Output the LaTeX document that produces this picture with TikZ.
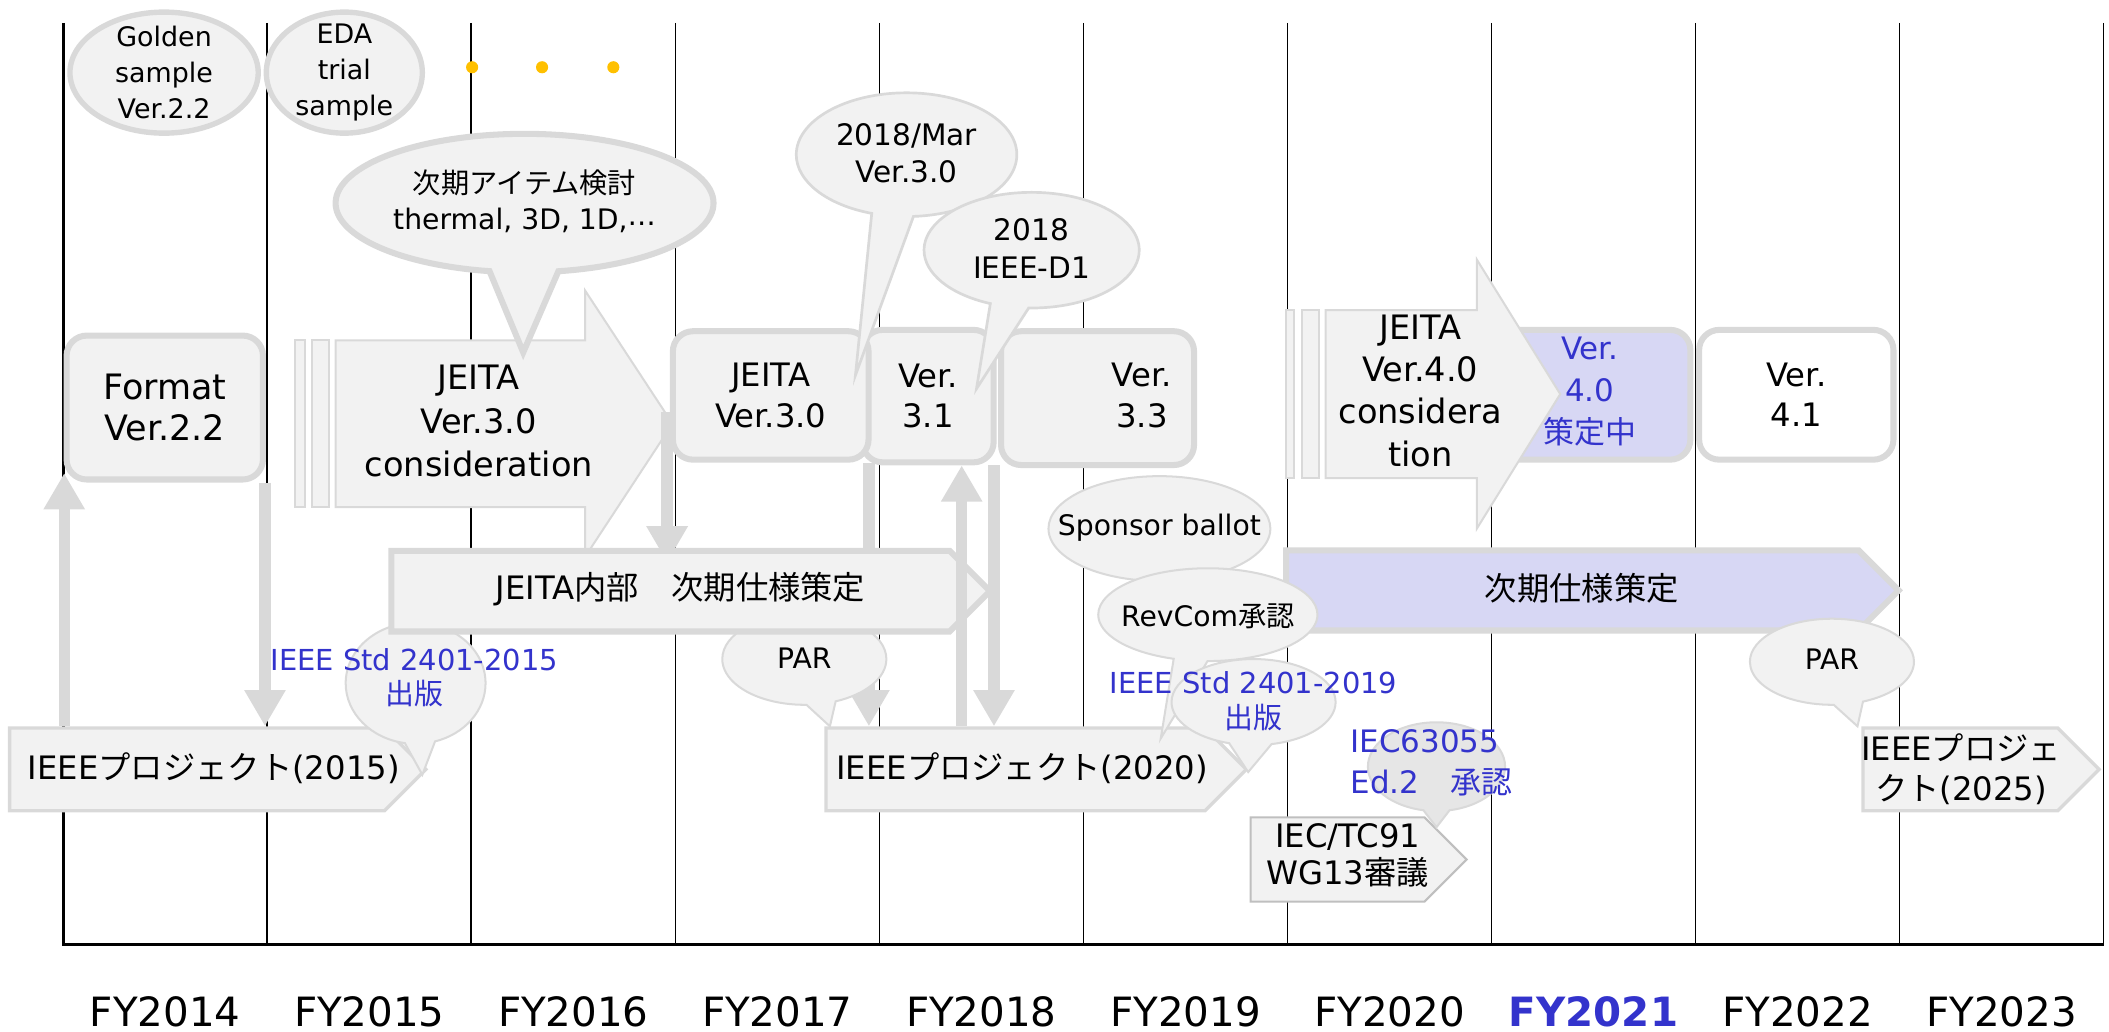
\documentclass[tikz,border=0pt]{standalone}
\usepackage{fontspec}
\setmainfont{DejaVu Sans}
\newfontfamily\jafont{Noto Sans CJK JP}
\newcommand{\jtext}[1]{{\jafont #1}}
\newcommand{\setfs}[2]{\fontsize{#1}{#2}\selectfont}
\usetikzlibrary{shapes.callouts,shapes.symbols,shapes.geometric,arrows.meta,calc}
\definecolor{fillg}{HTML}{F2F2F2}
\definecolor{lineg}{HTML}{D9D9D9}
\definecolor{lav}{HTML}{D7D7F4}
\definecolor{bluet}{HTML}{3333CC}
\definecolor{dotc}{HTML}{FFC000}
\definecolor{iecline}{HTML}{BFBFBF}
\definecolor{calldark}{HTML}{E6E6E6}
\pgfdeclarelayer{gridlayer}
\pgfdeclarelayer{low}
\pgfdeclarelayer{mid}
\pgfsetlayers{gridlayer,low,mid,main}
\tikzset{
  gridline/.style={draw=black, line width=1.2pt},
  axisline/.style={draw=black, line width=2pt},
  fy/.style={inner sep=0pt, font=\setfs{30}{36}},
  txt/.style={inner sep=0pt, align=center},
  rbox/.style={rectangle, rounded corners=15pt, draw=lineg, fill=fillg, line width=4.5pt, inner sep=0pt, align=center, font=\setfs{24}{30}},
  oval/.style={ellipse, draw=lineg, fill=fillg, line width=4pt, inner sep=0pt},
  bubble/.style={ellipse callout, draw=lineg, fill=fillg, line width=1.5pt, inner sep=0pt},
  pent/.style={signal, signal to=east, signal pointer angle=90, draw=lineg, fill=fillg, line width=2.5pt, inner sep=0pt},
  thinshape/.style={draw=lineg, fill=fillg, line width=1.5pt},
  garrow/.style={draw=lineg, line width=8.5pt, -{Triangle[width=29pt,length=27pt]}},
}
\begin{document}
\begin{tikzpicture}[x=1pt,y=-1pt]
\useasboundingbox (0,0) rectangle (1568,767);
\begin{pgfonlayer}{gridlayer}
\foreach \i in {1,...,10} \draw[gridline] ({47+151.7*\i},17) -- ({47+151.7*\i},702);
\draw[axisline] (47,17) -- (47,702) -- (1564,702);
\end{pgfonlayer}
% year labels
\foreach \i/\yr in {0/2014,1/2015,2/2016,3/2017,4/2018,5/2019,6/2020,8/2022,9/2023}
  \node[fy] (fy\yr) at ({122.85+151.7*\i},752) {FY\yr};
\node[fy, text=bluet, font=\setfs{30}{36}\bfseries] (fy2021) at ({122.85+151.7*7},752) {FY2021};
% top ovals
\node[oval, minimum width=140pt, minimum height=90pt] (gold) at (122,54) {};
\node[txt, font=\setfs{20}{27}] (goldt) at (gold.center) {Golden\\sample\\Ver.2.2};
\node[oval, minimum width=116pt, minimum height=90pt] (eda) at (256,54) {};
\node[txt, font=\setfs{20}{27}] (edat) at (eda.center) {EDA\\trial\\sample};
\fill[dotc] (351,50) circle (4.5pt) (403,50) circle (4.5pt) (456,50) circle (4.5pt);
% Format
\node[rbox, minimum width=146pt, minimum height=107pt, font=\setfs{26}{31}] (fmt) at (122.5,303) {Format\\Ver.2.2};
% IEEE project 2015
\node[pent, minimum width=309.5pt, minimum height=61.5pt] (p15) at (146.5,572) {};
\node[txt, font=\setfs{24}{30}] (p15t) at (159,571) {IEEE\jtext{プロジェクト}(2015)};
\node[bubble, minimum width=104pt, minimum height=90pt, callout absolute pointer={(314,576)}, callout pointer arc=25] (c15) at (309,508) {};
\node[txt, text=bluet, font=\setfs{21.5}{25}] (c15t) at (308,504) {IEEE Std 2401-2015\\\jtext{出版}};
% consideration 3.0 text
\node[txt, font=\setfs{25}{32}] (cons3) at (356,313) {JEITA\\Ver.3.0\\consideration};
% version boxes
\node[rbox, minimum width=143.5pt, minimum height=99.5pt] (v33) at (816,296) {};
\node[txt, font=\setfs{24}{30}] (v33t) at (849,294) {Ver.\\3.3};
\node[rbox, minimum width=97.5pt, minimum height=98.5pt] (v31) at (690,294.5) {Ver.\\3.1};
\node[rbox, minimum width=145.5pt, minimum height=95.5pt] (j30) at (573,294) {JEITA\\Ver.3.0};
% callouts
\node[bubble, line width=2pt, minimum width=164pt, minimum height=92pt, callout absolute pointer={(636,279)}, callout pointer arc=22] (cmar) at (674,115) {};
\node[txt, font=\setfs{22}{28}] (cmart) at (674,114) {2018/Mar\\Ver.3.0};
\node[bubble, line width=2pt, minimum width=160pt, minimum height=86pt, callout absolute pointer={(726,289)}, callout pointer arc=21] (cd1) at (767,186) {};
\node[txt, font=\setfs{22}{28}] (cd1t) at (767,185) {2018\\IEEE-D1};
\node[bubble, line width=4.5pt, minimum width=281pt, minimum height=103pt, callout absolute pointer={(389,262)}, callout pointer arc=21] (cnext) at (390,151) {};
\node[txt, font=\setfs{21}{27}] (cnextt) at (390,149.5) {\jtext{次期アイテム検討}\\thermal, 3D, 1D,\raisebox{3pt}{…}};
% PAR left
\node[bubble, minimum width=122pt, minimum height=68pt, callout absolute pointer={(617,540)}, callout pointer arc=21] (par1) at (598,490) {};
\node[txt, font=\setfs{21}{26}] (par1t) at (598,489) {PAR};
% JEITA internal
\node[pent, line width=4.5pt, minimum width=445pt, minimum height=60pt] (jn) at (498.5,439.5) {};
\node[txt, font=\setfs{24}{30}] (jnt) at (506,438) {JEITA\jtext{内部　次期仕様策定}};
% IEEE project 2020
\node[pent, minimum width=312.5pt, minimum height=61.5pt] (p20) at (755,572) {};
\node[txt, font=\setfs{24}{30}] (p20t) at (760,571) {IEEE\jtext{プロジェクト}(2020)};
% arrows on top
\coordinate (a5top) at ($(v31.south)+(25,0)$);
\draw[garrow] (a5top |- p20.north) -- (a5top);
\coordinate (a6top) at ($(v31.south east)+(-2,0)$);
\draw[garrow] (a6top) -- (a6top |- p20.north);
% lavender spec
\node[pent, line width=4.5pt, fill=lav, minimum width=455.5pt, minimum height=59.5pt] (lavp) at (1169,439) {};
\node[txt, font=\setfs{24}{30}] (lavt) at (1176,437) {\jtext{次期仕様策定}};
% sponsor / revcom / 2019
\node[bubble, minimum width=165pt, minimum height=78pt, callout absolute pointer={(885,440)}, callout pointer arc=15] (csp) at (862,393) {};
\node[txt, font=\setfs{21}{26}] (cspt) at (862,392) {Sponsor ballot};
\node[bubble, minimum width=163pt, minimum height=69pt, callout absolute pointer={(863,549)}, callout pointer arc=18] (crev) at (898,457) {};
\node[txt, font=\setfs{21}{26}] (crevt) at (898,458) {RevCom\jtext{承認}};
\node[bubble, minimum width=122pt, minimum height=64pt, callout absolute pointer={(928,574)}, callout pointer arc=30] (c19) at (932,522) {};
\node[txt, text=bluet, font=\setfs{21.5}{26}] (c19t) at (932,521) {IEEE Std 2401-2019\\\jtext{出版}};
% IEC
\node[pent, draw=iecline, line width=1.5pt, minimum width=160.5pt, minimum height=62.5pt] (iec) at (994.5,639) {};
\node[txt, font=\setfs{24}{28}] (iect) at (1002,636) {IEC/TC91\\WG13\jtext{審議}};
\node[bubble, fill=calldark, minimum width=102pt, minimum height=66pt, callout absolute pointer={(1068,615)}, callout pointer arc=22] (c630) at (1068,570) {};
\node[txt, align=left, anchor=west, text=bluet, font=\setfs{23}{30}] (c630t) at (1004,567) {IEC63055\\Ed.2\jtext{　承認}};
% Ver 4.0
\node[rbox, fill=lav, minimum width=151.5pt, minimum height=96.5pt] (v40) at (1181,293.5) {};
\draw[thinshape] (956,230.5) rectangle (962,355.5);
\draw[thinshape] (968,230.5) rectangle (981,355.5);
\draw[thinshape] (985.5,230.5) -- (1098,230.5) -- (1098,193) -- (1160,293) -- (1098,393) -- (1098,355.5) -- (985.5,355.5) -- cycle;
\node[txt, font=\setfs{25}{31.5}] (cons4) at (1056,290.5) {JEITA\\Ver.4.0\\considera\\tion};
\node[txt, text=bluet, font=\setfs{23}{31}] (v40t) at (1182,291) {Ver.\\4.0\\\jtext{策定中}};
\node[rbox, fill=white, minimum width=144.5pt, minimum height=96.5pt] (v41) at (1335.5,293.5) {Ver.\\4.1};
% IEEE project 2025 and PAR
\node[pent, minimum width=175.5pt, minimum height=61.5pt] (p25) at (1457.5,572) {};
\node[txt, font=\setfs{24}{30}] (p25t) at (1458,572) {IEEE\jtext{プロジェ}\\\jtext{クト}(2025)};
\node[bubble, minimum width=122pt, minimum height=64pt, callout absolute pointer={(1381,540)}, callout pointer arc=21] (par2) at (1362,492) {};
\node[txt, font=\setfs{21}{26}] (par2t) at (1362,490) {PAR};
% lower layers
\begin{pgfonlayer}{low}
\draw[thinshape] (219.5,253) rectangle (226.5,377);
\draw[thinshape] (232,253) rectangle (244.5,377);
\draw[thinshape] (249.5,253) -- (435,253) -- (435,216) -- (500,315) -- (435,414) -- (435,377) -- (249.5,377) -- cycle;
\draw[garrow] ($(fmt.south west |- p15.north)+(0.5,0)$) -- ($(fmt.south west)+(0.5,-7)$);
\draw[garrow] ($(fmt.south east)+(-0.75,0)$) -- ($(fmt.south east |- p15.north)+(-0.75,0)$);
\coordinate (a4top) at ($(j30.south east)+(-2,0)$);
\draw[garrow] (a4top) -- (a4top |- p20.north);
\end{pgfonlayer}
\begin{pgfonlayer}{mid}
\coordinate (c3tip) at (496,306);
\draw[garrow] (c3tip) -- ($(c3tip |- jn.north)+(0,11)$);
\end{pgfonlayer}
\end{tikzpicture}
\end{document}
